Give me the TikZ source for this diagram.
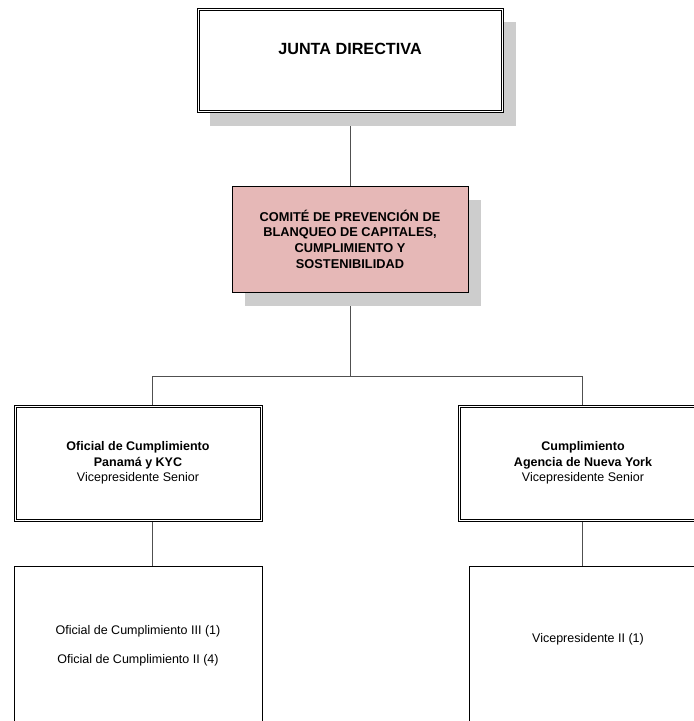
\documentclass[tikz,border=0pt]{standalone}
\usepackage{fontspec}
\setmainfont{Liberation Sans}
\usetikzlibrary{shapes,shadows,backgrounds}
\definecolor{rosa}{HTML}{E6B8B7}
\definecolor{sombra}{HTML}{CDCDCD}
\definecolor{linea}{HTML}{505050}

\begin{document}
\begin{tikzpicture}[x=1pt, y=-1pt,
  caja/.style={draw=black, rectangle, align=center, inner sep=0pt, line width=0.7pt, fill=white},
  doble/.style={caja, line width=1pt},
  sombreada/.style={drop shadow={shadow xshift=13pt, shadow yshift=-14pt, fill=sombra, opacity=1}},
  conector/.style={draw=linea, line width=0.8pt},
  texto/.style={font=\fontsize{12.5}{15.5}\selectfont}]
\clip (0,0) rectangle (694,721);
% board and committee
\node[doble, sombreada, minimum width=306pt, minimum height=104pt, text depth=22pt,
  font=\fontsize{16.2}{19}\selectfont\bfseries] (junta) at (350,60) {JUNTA DIRECTIVA};
\node[caja, sombreada, fill=rosa, minimum width=236pt, minimum height=106pt,
  font=\fontsize{12.8}{15.7}\selectfont\bfseries] (comite) at (350,239)
  {COMIT\'E DE PREVENCI\'ON DE\\BLANQUEO DE CAPITALES,\\CUMPLIMIENTO Y\\SOSTENIBILIDAD};
% second level
\node[doble, texto, minimum width=248pt, minimum height=116pt] (panama) at (138,463)
  {\textbf{Oficial de Cumplimiento}\\\textbf{Panam\'a y KYC}\\Vicepresidente Senior};
\node[doble, texto, minimum width=250pt, minimum height=116pt] (nuevayork) at (583,463)
  {\textbf{Cumplimiento}\\\textbf{Agencia de Nueva York}\\Vicepresidente Senior};
% inner line of the double frames
\foreach \n in {junta,panama,nuevayork}
  \draw[line width=0.5pt] ([shift={(2.3,2.3)}]\n.north west) rectangle ([shift={(-2.3,-2.3)}]\n.south east);
% staff
\node[caja, texto, minimum width=248pt, minimum height=160pt] (staffpan) at (138,646)
  {Oficial de Cumplimiento III (1)\\[14pt]Oficial de Cumplimiento II (4)};
\node[caja, texto, minimum width=238pt, minimum height=176pt, text height=9pt, text depth=32pt]
  (staffny) at (588,654) {Vicepresidente II (1)};
% connectors
\coordinate (bus) at (350,376);
\coordinate (izq) at (152,376);
\coordinate (der) at (582,376);
\begin{scope}[on background layer]
\draw[conector] (junta) -- (comite);
\draw[conector] (comite) -- (bus);
\draw[conector] (izq |- panama.north) -- (izq) -- (der) -- (der |- nuevayork.north);
\draw[conector] (izq |- panama.south) -- (izq |- staffpan.north);
\draw[conector] (der |- nuevayork.south) -- (der |- staffny.north);
\end{scope}
\end{tikzpicture}
\end{document}
